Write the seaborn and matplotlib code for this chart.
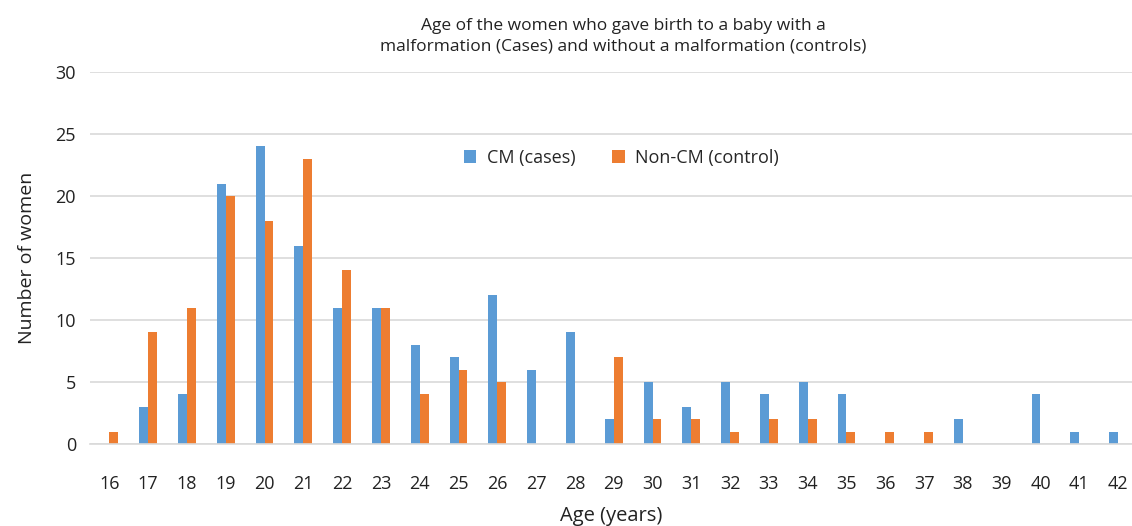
import pandas as pd
import matplotlib.pyplot as plt
import seaborn as sns

# Ages (years) and counts
ages = [str(a) for a in range(16, 43)]
cases = [0, 3, 4, 21, 24, 16, 11, 11, 8, 7, 12, 6, 9, 2, 5, 3, 5, 4, 5, 4, 0, 0, 2, 0, 4, 1, 1]
controls = [1, 9, 11, 20, 18, 23, 14, 11, 4, 6, 5, 0, 0, 7, 2, 2, 1, 2, 2, 1, 1, 1, 0, 0, 0, 0, 0]
series_names = ["CM (cases)", "Non-CM (control)"]
colors = ["#5B9BD5", "#ED7D31"]

df = pd.concat([
    pd.DataFrame({"age": ages, "count": cases, "group": series_names[0]}),
    pd.DataFrame({"age": ages, "count": controls, "group": series_names[1]}),
])

sns.set_theme(style="white")
plt.rcParams["font.family"] = ["Open Sans", "DejaVu Sans"]

fig = plt.figure(figsize=(11.32, 5.26), dpi=100)
ax = fig.add_axes([90 / 1132, 82 / 526, 1042 / 1132, 372 / 526])

sns.barplot(data=df, x="age", y="count", hue="group", order=ages,
            hue_order=series_names, palette=colors, width=0.46,
            saturation=1, edgecolor="none", ax=ax)

ax.set_xlim(-0.5, 26.36)
ax.set_ylim(0, 30)
ax.set_yticks(range(0, 31, 5))
ax.yaxis.grid(True, color="#D9D9D9", linewidth=1.2)
ax.set_axisbelow(True)
for side in ["top", "right", "left"]:
    ax.spines[side].set_visible(False)
ax.spines["bottom"].set_color("#D9D9D9")
ax.spines["bottom"].set_linewidth(1.2)
ax.tick_params(axis="x", length=0, pad=22, labelsize=13, colors="#222222")
ax.tick_params(axis="y", length=0, pad=10, labelsize=13, colors="#222222")

ax.set_xlabel("Age (years)", fontsize=14.5, color="#222222", labelpad=10)
ax.set_ylabel("Number of women", fontsize=14, color="#222222", labelpad=14)
fig.text(623 / 1132, 1 - 36 / 526,
         "Age of the women who gave birth to a baby with a\n"
         "malformation (Cases) and without a malformation (controls)",
         ha="center", va="center", fontsize=12.5, color="#222222", linespacing=1.35)

ax.legend(loc="center", bbox_to_anchor=(0.51, 0.77), ncol=2, frameon=False,
          fontsize=13, handlelength=0.7, handleheight=0.7, columnspacing=2.0,
          handletextpad=0.6)

fig.savefig("out.png", dpi=100)
